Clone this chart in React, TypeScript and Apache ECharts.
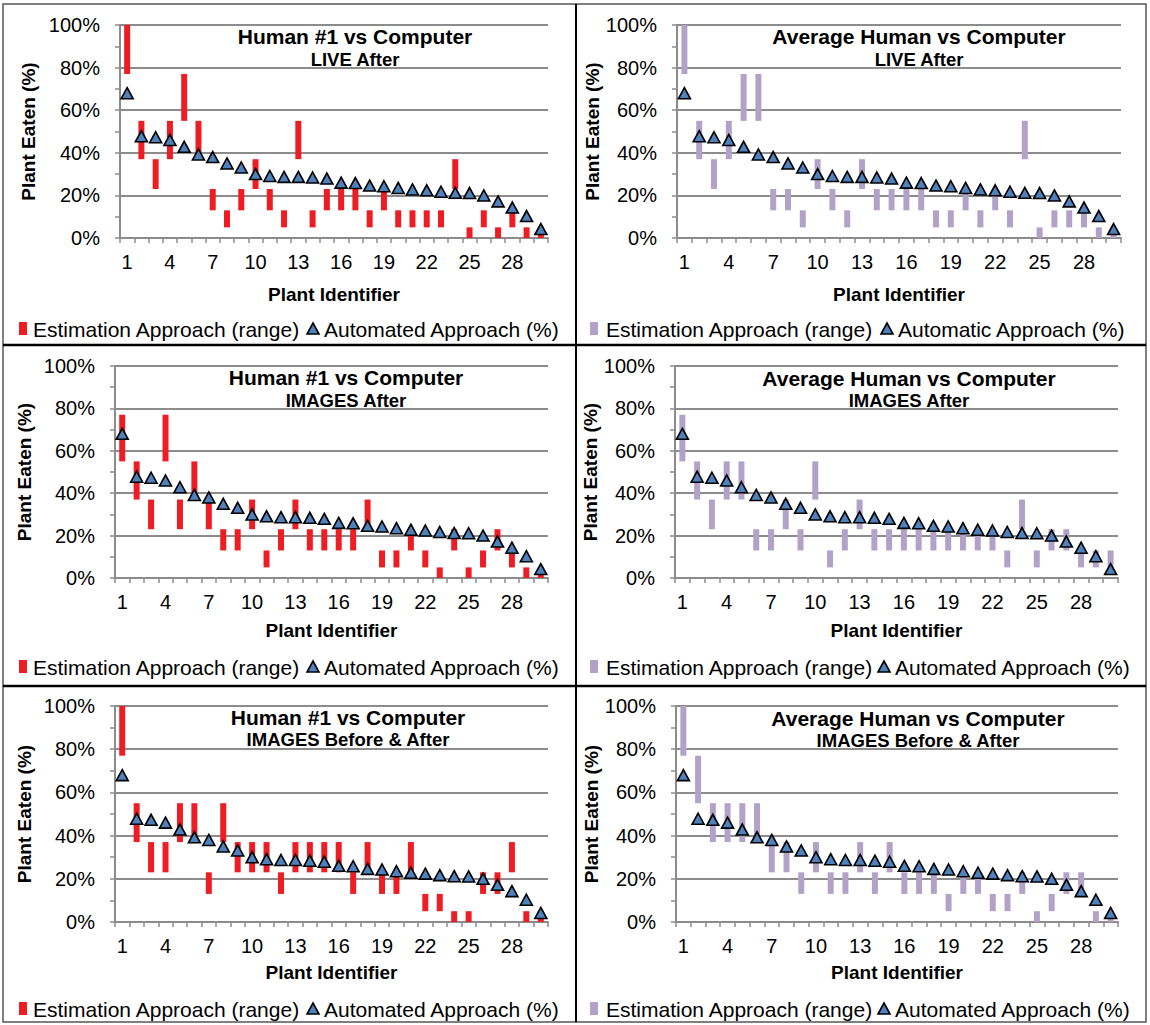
import React, { useEffect, useRef } from "react";
import * as echarts from "echarts";

// ---------- DATA ----------
const plantIds = ["1","2","3","4","5","6","7","8","9","10","11","12","13","14","15","16","17","18","19","20","21","22","23","24","25","26","27","28","29","30"];
// Estimation range classes (percent eaten): class k spans rangeEdges[k-1]..rangeEdges[k]
const rangeEdges = [0, 5, 13, 23, 37, 55, 77, 100];
// Automated (computer) estimate, %
const automatedPct = [68, 47.8, 47.3, 46, 42.8, 39.2, 38, 35, 33.1, 30, 29.1, 28.7, 28.7, 28.4, 27.9, 26, 25.8, 24.6, 24.3, 23.5, 22.8, 22.4, 21.7, 21.2, 21.1, 20, 17.2, 14.3, 10.3, 4.2];
// Estimation class per plant
const human1LiveAfter = [7,5,4,5,6,5,3,2,3,4,3,2,5,2,3,3,3,2,3,2,2,2,2,4,1,2,1,2,1,1];
const avgLiveAfter = [7,5,4,5,6,6,3,3,2,4,3,2,4,3,3,3,3,2,2,3,2,3,2,5,1,2,2,2,1,1];
const human1ImagesAfter = [6,5,4,6,4,5,4,3,3,4,2,3,4,3,3,3,3,4,2,2,3,2,1,3,1,2,3,2,1,1];
const avgImagesAfter = [6,5,4,5,5,3,3,4,3,5,2,3,4,3,3,3,3,3,3,3,3,3,2,4,2,3,3,2,2,2];
const human1ImagesBA = [7,5,4,4,5,5,3,5,4,4,4,3,4,4,4,4,3,4,3,3,4,2,2,1,1,3,3,4,1,1];
const avgImagesBA = [7,6,5,5,5,5,4,4,3,4,3,3,4,3,4,3,3,3,2,3,3,2,2,3,1,2,3,3,1,1];

// ---------- STYLE ----------
const FONT = '"Liberation Sans", Arial, Helvetica, sans-serif';
const RED = "#EE1D24";
const LAVENDER = "#B3A2C8";
const BLUE = "#4F81BD";
const GRAY = "#8C8C8C";
const LEG_FONT = 21;

const panels = [
  { title: "Human #1 vs Computer", sub: "LIVE After", cls: human1LiveAfter, color: RED, auto: "Automated Approach (%)",
    grid: { left: 120, top: 25, width: 428, height: 213 }, tx: 355, ty: 36, sy: 59, yGap: 82, xGap: 47,
    lg: { y: 329, rectX: 19, estX: 33, triX: 313, autoX: 324 } },
  { title: "Average Human vs Computer", sub: "LIVE After", cls: avgLiveAfter, color: LAVENDER, auto: "Automatic Approach (%)",
    grid: { left: 677, top: 25, width: 444, height: 213 }, tx: 919, ty: 36, sy: 59, yGap: 70, xGap: 47,
    lg: { y: 329, rectX: 590, estX: 606, triX: 887, autoX: 898 } },
  { title: "Human #1 vs Computer", sub: "IMAGES After", cls: human1ImagesAfter, color: RED, auto: "Automated Approach (%)",
    grid: { left: 115, top: 366, width: 433, height: 212 }, tx: 346, ty: 377, sy: 400, yGap: 81, xGap: 43,
    lg: { y: 667, rectX: 19, estX: 33, triX: 313, autoX: 324 } },
  { title: "Average Human vs Computer", sub: "IMAGES After", cls: avgImagesAfter, color: LAVENDER, auto: "Automated Approach (%)",
    grid: { left: 675, top: 366, width: 443, height: 212 }, tx: 909, ty: 378, sy: 400, yGap: 70, xGap: 43,
    lg: { y: 667, rectX: 590, estX: 606, triX: 884, autoX: 895 } },
  { title: "Human #1 vs Computer", sub: "IMAGES Before & After", cls: human1ImagesBA, color: RED, auto: "Automated Approach (%)",
    grid: { left: 115, top: 706, width: 433, height: 216 }, tx: 348, ty: 717, sy: 739, yGap: 81, xGap: 41,
    lg: { y: 1009, rectX: 19, estX: 33, triX: 313, autoX: 324 } },
  { title: "Average Human vs Computer", sub: "IMAGES Before & After", cls: avgImagesBA, color: LAVENDER, auto: "Automated Approach (%)",
    grid: { left: 676, top: 706, width: 442, height: 216 }, tx: 918, ty: 718, sy: 740, yGap: 70, xGap: 41,
    lg: { y: 1009, rectX: 590, estX: 606, triX: 884, autoX: 895 } },
];

function buildOption() {
  const grid = panels.map((p) => ({ ...p.grid, containLabel: false }));
  const xAxis = panels.map((p, i) => ({
    gridIndex: i, type: "category", data: plantIds, boundaryGap: true,
    axisLine: { show: true, lineStyle: { color: GRAY, width: 2 } },
    axisTick: { show: true, interval: 0, length: 5, lineStyle: { color: GRAY, width: 1.5 } },
    axisLabel: { interval: 2, fontSize: 20, color: "#000", fontFamily: FONT, margin: 14 },
    splitLine: { show: false },
    name: "Plant Identifier", nameLocation: "middle", nameGap: p.xGap,
    nameTextStyle: { fontSize: 19, fontWeight: "bold", color: "#000", fontFamily: FONT },
  }));
  const yAxis = panels.map((p, i) => ({
    gridIndex: i, type: "value", min: 0, max: 100, interval: 20,
    axisLine: { show: true, lineStyle: { color: GRAY, width: 2 } },
    axisTick: { show: true, length: 5, lineStyle: { color: GRAY, width: 1.5 } },
    minorTick: { show: true, splitNumber: 2, length: 5, lineStyle: { color: GRAY, width: 1.5 } },
    splitLine: { show: true, lineStyle: { color: GRAY, width: 2 } },
    axisLabel: { formatter: "{value}%", fontSize: 20, color: "#000", fontFamily: FONT, margin: 20 },
    name: "Plant Eaten (%)", nameLocation: "middle", nameGap: p.yGap, nameRotate: 90,
    nameTextStyle: { fontSize: 19, fontWeight: "bold", color: "#000", fontFamily: FONT },
  }));
  const series: any[] = [];
  panels.forEach((p, i) => {
    const lows = p.cls.map((c) => rangeEdges[c - 1]);
    const spans = p.cls.map((c) => rangeEdges[c] - rangeEdges[c - 1]);
    series.push({
      type: "bar", xAxisIndex: i, yAxisIndex: i, stack: "s" + i, data: lows, barWidth: 6,
      itemStyle: { color: "rgba(0,0,0,0)" }, silent: true, z: 2,
    });
    series.push({
      type: "bar", xAxisIndex: i, yAxisIndex: i, stack: "s" + i, data: spans, barWidth: 6,
      itemStyle: { color: p.color }, z: 2,
    });
    series.push({
      type: "scatter", xAxisIndex: i, yAxisIndex: i, data: automatedPct,
      symbol: "triangle", symbolSize: [12, 11],
      itemStyle: { color: BLUE, borderColor: "#000", borderWidth: 1.6, opacity: 1 }, z: 5,
    });
  });

  const graphic: any[] = [];
  panels.forEach((p) => {
    graphic.push({ type: "text", x: p.tx, y: p.ty, z: 10,
      style: { text: p.title, font: `bold 21px ${FONT}`, fill: "#000", align: "center", verticalAlign: "middle" } });
    graphic.push({ type: "text", x: p.tx, y: p.sy, z: 10,
      style: { text: p.sub, font: `bold 18.5px ${FONT}`, fill: "#000", align: "center", verticalAlign: "middle" } });
    const L = p.lg;
    graphic.push({ type: "rect", shape: { x: L.rectX, y: L.y - 7, width: 8, height: 13 }, style: { fill: p.color } });
    graphic.push({ type: "text", x: L.estX, y: L.y, style: { text: "Estimation Approach (range)", font: `${LEG_FONT}px ${FONT}`, fill: "#000", align: "left", verticalAlign: "middle" } });
    graphic.push({ type: "polygon", shape: { points: [[L.triX - 6, L.y + 5], [L.triX + 6, L.y + 5], [L.triX, L.y - 6]] },
      style: { fill: BLUE, stroke: "#000", lineWidth: 1.6 } });
    graphic.push({ type: "text", x: L.autoX, y: L.y, style: { text: p.auto, font: `${LEG_FONT}px ${FONT}`, fill: "#000", align: "left", verticalAlign: "middle" } });
  });
  // frame and dividers
  graphic.push({ type: "rect", shape: { x: 3, y: 4, width: 1143, height: 1018 }, style: { fill: "none", stroke: "#555", lineWidth: 1.5 } });
  graphic.push({ type: "line", shape: { x1: 576, y1: 4, x2: 576, y2: 1022 }, style: { stroke: "#000", lineWidth: 2 } });
  graphic.push({ type: "line", shape: { x1: 3, y1: 345, x2: 1146, y2: 345 }, style: { stroke: "#000", lineWidth: 2.5 } });
  graphic.push({ type: "line", shape: { x1: 3, y1: 686, x2: 1146, y2: 686 }, style: { stroke: "#000", lineWidth: 2.5 } });

  return {
    animation: false,
    backgroundColor: "#fff",
    textStyle: { fontFamily: FONT },
    grid, xAxis, yAxis, series, graphic,
  };
}

export default function App() {
  const ref = useRef<HTMLDivElement>(null);
  useEffect(() => {
    document.body.style.margin = "0";
    if (!ref.current) return;
    const chart = echarts.init(ref.current, undefined, { renderer: "svg" });
    chart.setOption(buildOption() as any);
    return () => chart.dispose();
  }, []);
  return <div ref={ref} style={{ width: 1150, height: 1025 }} />;
}
